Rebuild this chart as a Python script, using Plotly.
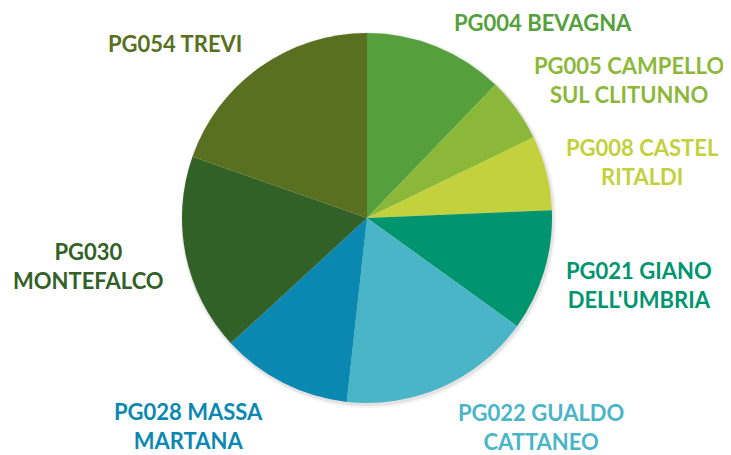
import plotly.graph_objects as go

labels = ["PG004 BEVAGNA", "PG005 CAMPELLO<br>SUL CLITUNNO", "PG008 CASTEL<br>RITALDI",
          "PG021 GIANO<br>DELL'UMBRIA", "PG022 GUALDO<br>CATTANEO", "PG028 MASSA<br>MARTANA",
          "PG030<br>MONTEFALCO", "PG054 TREVI"]
values = [12.2, 5.6, 6.5, 10.6, 16.8, 11.4, 17.2, 19.6]
colors = ["#55a03c", "#8cb83a", "#c3d13c", "#00956f", "#4bb5c8", "#0b88b2", "#326127", "#58701f"]

# label placement (pixel centres in the figure, like manually placed Excel labels)
label_px = [(535, 15), (621, 72), (634, 154), (631, 277), (533, 419), (180, 418), (80, 258), (167, 36)]

W, H = 731, 455
cx, cy, R = 359, 210, 185

fig = go.Figure(go.Pie(
    labels=labels, values=values, sort=False, direction="clockwise", rotation=0,
    marker=dict(colors=colors, line=dict(width=0)),
    textinfo="none",
    domain=dict(x=[(cx - R) / W, (cx + R) / W], y=[(H - cy - R) / H, (H - cy + R) / H]),
    showlegend=False, hoverinfo="label+value",
))

# soft shadow behind the pie
for r_extra, dx, dy, alpha in [(3, 1.5, 2, 0.04), (1.5, 1, 1.5, 0.07)]:
    fig.add_shape(type="circle", xref="paper", yref="paper", xsizemode="pixel", ysizemode="pixel",
                  xanchor=cx / W, yanchor=1 - cy / H,
                  x0=-R - r_extra + dx, x1=R + r_extra + dx, y0=-R - r_extra - dy, y1=R + r_extra - dy,
                  fillcolor=f"rgba(0,0,0,{alpha})", line=dict(width=0), layer="below")

for lab, col, (px, py) in zip(labels, colors, label_px):
    fig.add_annotation(x=px / W, y=1 - py / H, xref="paper", yref="paper",
                       text=lab, showarrow=False, align="center",
                       xanchor="center", yanchor="middle",
                       font=dict(family="Lato", size=22, color=col, weight="bold"))

fig.update_layout(width=W, height=H, margin=dict(l=0, r=0, t=0, b=0),
                  paper_bgcolor="white", plot_bgcolor="white", font=dict(family="Lato"))
fig.write_html("out.html")
